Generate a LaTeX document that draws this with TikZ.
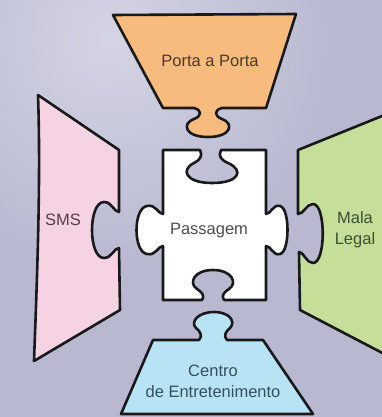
\documentclass[tikz,border=0pt]{standalone}
\usepackage{fontspec}
\setmainfont{Liberation Sans}
\usepackage{xcolor}
\usetikzlibrary{calc,positioning}
\definecolor{bgbase}{HTML}{B8B8D1}
\definecolor{bglight}{HTML}{D4D4E4}
\definecolor{pieceorange}{HTML}{F7BB7D}
\definecolor{piecepink}{HTML}{F6D3E3}
\definecolor{piecegreen}{HTML}{C5DE9A}
\definecolor{pieceblue}{HTML}{B8E3F5}
\definecolor{inkbrown}{HTML}{4A3A2C}
\definecolor{inkgray}{HTML}{4E4E50}
\definecolor{inkplum}{HTML}{5A3C4C}
\definecolor{inkgreen}{HTML}{3A5232}
\definecolor{inkblue}{HTML}{34505E}
\tikzset{
  piece/.style={line width=2.6pt,draw=black!90,line join=round},
  tag/.style={font=\fontsize{16.5}{21}\selectfont,align=center,inner sep=0pt}
}

\begin{document}
\begin{tikzpicture}[x=1pt,y=-1pt]
  \useasboundingbox (0,0) rectangle (382,417);
  \clip (0,0) rectangle (382,417);
  \fill[bgbase] (0,0) rectangle (382,417);
  \shade[inner color=bglight,outer color=bgbase] (110,40) circle (230);
  % top piece
  \draw[piece,fill=pieceorange] (113,15)--(296,14)--(266,108)--(222,108)
    .. controls (214,110) and (214,116) .. (222,119)
    .. controls (234,123) and (232,137) .. (208,137)
    .. controls (184,137) and (182,123) .. (194,119)
    .. controls (202,116) and (202,110) .. (194,108)--(163,108)--cycle;
  % left piece
  \draw[piece,fill=piecepink] (38,95)--(119,150)--(119,212)
    .. controls (114,212) and (112,202) .. (104,202)
    .. controls (88,202) and (88,258) .. (104,258)
    .. controls (112,258) and (114,248) .. (119,248)--(120,310)--(34,361)
    .. controls (37,280) and (41,180) .. cycle;
  % right piece
  \draw[piece,fill=piecegreen] (298,150)--(392,112)--(392,358)--(300,310)--(299,252)
    .. controls (304,252) and (306,263) .. (313,263)
    .. controls (326,263) and (326,204) .. (313,204)
    .. controls (306,204) and (304,214) .. (298,214)--cycle;
  % bottom piece
  \draw[piece,fill=pieceblue] (153,340)--(199,340)
    .. controls (203,336) and (200,331) .. (196,328)
    .. controls (190,322) and (198,312) .. (214,312)
    .. controls (230,312) and (236,322) .. (230,328)
    .. controls (226,331) and (223,336) .. (227,340)--(263,340)--(313,414)--(121,414)--cycle;
  % centre piece
  \draw[piece,fill=white] (163,150)--(200,150)
    .. controls (203,156) and (200,160) .. (194,163)
    .. controls (180,170) and (186,183) .. (212,183)
    .. controls (240,183) and (244,170) .. (228,163)
    .. controls (221,160) and (218,156) .. (221,150)--(266,150)--(266,214)
    .. controls (271,214) and (273,204) .. (280,206)
    .. controls (290,208) and (290,252) .. (280,254)
    .. controls (273,256) and (271,246) .. (266,246)--(266,300)--(224,300)
    .. controls (221,296) and (224,292) .. (229,289)
    .. controls (238,283) and (232,270) .. (213,270)
    .. controls (194,270) and (188,283) .. (197,289)
    .. controls (202,292) and (205,296) .. (202,300)--(163,300)--(163,246)
    .. controls (158,246) and (156,256) .. (147,254)
    .. controls (133,252) and (133,208) .. (147,206)
    .. controls (156,204) and (158,214) .. (163,214)--cycle;
  % labels
  \node[tag,text=inkbrown] (porta) at (210,61) {Porta a Porta};
  \node[tag,text=inkgray] (passagem) at (209,231) {Passagem};
  \node[tag,text=inkplum] (sms) at (63,220) {SMS};
  \node[tag,text=inkgreen] (mala) at (355,230) {Mala\\Legal};
  \node[tag,text=inkblue] (centro) at (213,381) {Centro\\de Entretenimento};
\end{tikzpicture}
\end{document}
